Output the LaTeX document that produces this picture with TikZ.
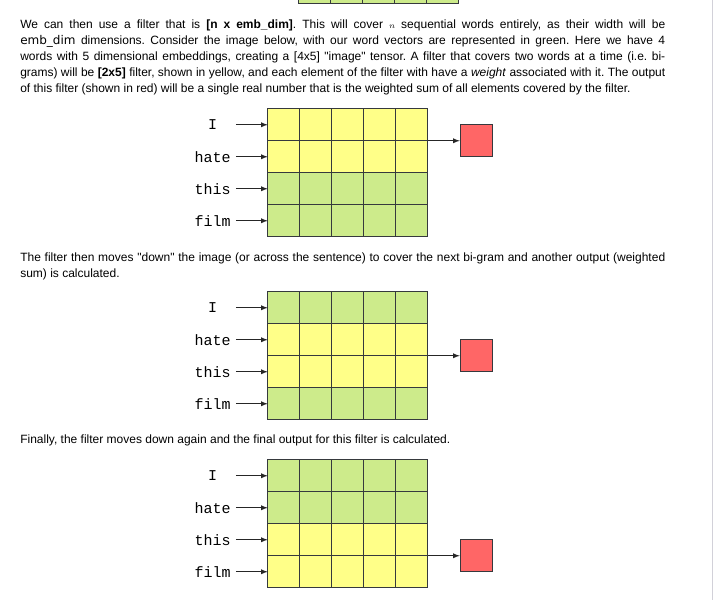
\documentclass[tikz,border=0pt]{standalone}
\usepackage{fontspec}
\setmainfont{Liberation Sans}
\newfontfamily\wordfont{Liberation Mono}
\newfontfamily\codefont{DejaVu Sans}
\usetikzlibrary{
    matrix,
    positioning}
\definecolor{embgreen}{HTML}{CDEB8B}
\definecolor{filtyellow}{HTML}{FFFF88}
\definecolor{outred}{HTML}{FF6666}
\definecolor{cellline}{HTML}{36393D}
\definecolor{rulegray}{HTML}{D2D1D9}
\tolerance=10000
\hyphenpenalty=10000
\frenchspacing
\newcommand{\code}[1]{{\codefont #1}}
\newcommand{\qt}[1]{\textquotedbl #1\textquotedbl}
\tikzset{para/.style={anchor=north west, inner sep=0pt, text width=483.75pt, align=justify,
            font=\fontsize{9pt}{12pt}\selectfont}}
\tikzset{cell/.style={draw=cellline, line width=0.75pt, minimum size=24pt, inner sep=0pt, outer sep=0pt}}
\tikzset{embgrid/.style={
            matrix of nodes, anchor=north west, inner sep=0pt,
            nodes in empty cells, column sep=-0.75pt, row sep=-0.75pt,
            nodes={cell, fill=embgreen},
            % row 1/.style={filt}
        }}
\tikzset{filt/.style={nodes={fill=filtyellow}}}
\tikzset{word/.style={font=\fontsize{11.25pt}{13pt}\wordfont, text width=27pt, align=center,
            inner xsep=3.75pt, inner ysep=1pt}}
\tikzset{outbox/.style={draw=cellline, fill=outred, line width=0.75pt, minimum size=24pt, inner sep=0pt}}
\tikzset{feed/.style={-latex, line width=0.75pt, draw=black!85}}

\begin{document}
\begin{tikzpicture}[x=0.75pt, y=-0.75pt, node distance=24pt]

    \useasboundingbox (0,0) rectangle (715,600);
    % side rule of the page
    \draw[rulegray, line width=1.1pt] (712.5,0) -- (712.5,600);

    % end of the picture above
    \matrix(g0)[embgrid, anchor=south west] at (298,4){ & & & & \\ };

    % text
    \node(intro)[para] at (20,19.7){We can then use a filter that is \textbf{[n x emb\_dim]}. This will
        cover {\fontsize{6pt}{7pt}\selectfont$n$} sequential words entirely, as their width will be\linebreak
        \code{emb\_dim} dimensions. Consider the image below, with our word vectors are represented in green. Here we have 4\linebreak
        words with 5 dimensional embeddings, creating a [4x5] \qt{image} tensor. A filter that covers two words at a time (i.e. bi-\linebreak
        grams) will be \textbf{[2x5]} filter, shown in yellow, and each element of the filter with have a \textit{weight} associated with it. The output\linebreak
        of this filter (shown in red) will be a single real number that is the weighted sum of all elements covered by the filter.};

    % first position
    \matrix(g1)[embgrid, row 1/.style={filt}, row 2/.style={filt}] at (267,108){
         & & & & \\
         & & & & \\
         & & & & \\
         & & & & \\
    };
    \node(I1)[word, left=of g1-1-1]{I};
    \node(hate1)[word, left=of g1-2-1]{hate};
    \node(this1)[word, left=of g1-3-1]{this};
    \node(film1)[word, left=of g1-4-1]{film};
    \draw[feed](I1) -- (g1-1-1);
    \draw[feed](hate1) -- (g1-2-1);
    \draw[feed](this1) -- (g1-3-1);
    \draw[feed](film1) -- (g1-4-1);
    \node(out1)[outbox, right=of g1-1-5.south east]{};
    \draw[feed](g1-1-5.south east) -- (out1);

    \node(down)[para] at (20,252.5){The filter then moves \qt{down} the image (or across the sentence) to cover the next bi-gram and another output (weighted\linebreak
        sum) is calculated.};

    % second position
    \matrix(g2)[embgrid, row 2/.style={filt}, row 3/.style={filt}] at (267,291){
         & & & & \\
         & & & & \\
         & & & & \\
         & & & & \\
    };
    \node(I2)[word, left=of g2-1-1]{I};
    \node(hate2)[word, left=of g2-2-1]{hate};
    \node(this2)[word, left=of g2-3-1]{this};
    \node(film2)[word, left=of g2-4-1]{film};
    \draw[feed](I2) -- (g2-1-1);
    \draw[feed](hate2) -- (g2-2-1);
    \draw[feed](this2) -- (g2-3-1);
    \draw[feed](film2) -- (g2-4-1);
    \node(out2)[outbox, right=of g2-2-5.south east]{};
    \draw[feed](g2-2-5.south east) -- (out2);

    \node(final)[para] at (20,434.2){Finally, the filter moves down again and the final output for this filter is calculated.};

    % third position
    \matrix(g3)[embgrid, row 3/.style={filt}, row 4/.style={filt}] at (267,459){
         & & & & \\
         & & & & \\
         & & & & \\
         & & & & \\
    };
    \node(I3)[word, left=of g3-1-1]{I};
    \node(hate3)[word, left=of g3-2-1]{hate};
    \node(this3)[word, left=of g3-3-1]{this};
    \node(film3)[word, left=of g3-4-1]{film};
    \draw[feed](I3) -- (g3-1-1);
    \draw[feed](hate3) -- (g3-2-1);
    \draw[feed](this3) -- (g3-3-1);
    \draw[feed](film3) -- (g3-4-1);
    \node(out3)[outbox, right=of g3-3-5.south east]{};
    \draw[feed](g3-3-5.south east) -- (out3);

\end{tikzpicture}
\end{document}
